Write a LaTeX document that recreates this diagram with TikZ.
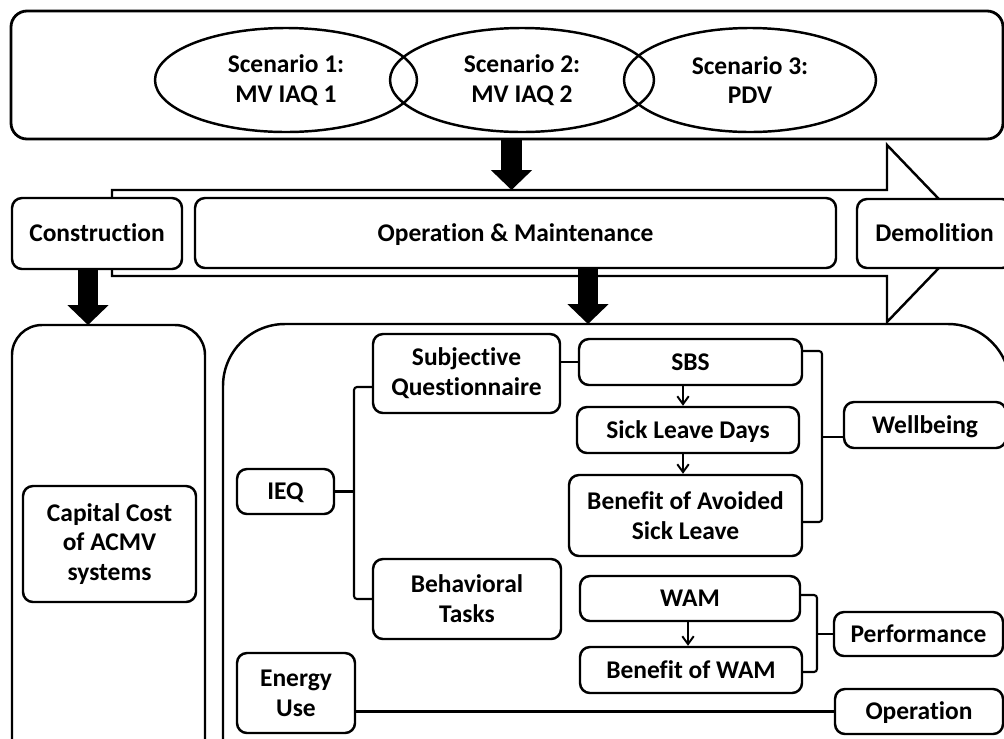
\documentclass[tikz,border=0pt]{standalone}
\usepackage{fontspec}
\setmainfont{Carlito}[Ligatures=NoCommon]
\usetikzlibrary{arrows.meta,calc,shapes.geometric}
\tikzset{
  every node/.style={font=\bfseries\fontsize{14.5}{17}\selectfont, text=black},
  sz/.style 2 args={minimum width=#1*0.02cm, minimum height=#2*0.02cm, inner sep=0pt},
  rbox/.style={draw, line width=1.4pt, rounded corners=0.2cm, fill=white, align=center},
  oneline/.style={text height=9.3pt, text depth=0pt},
  scen/.style={draw, ellipse, line width=1.4pt, align=center},
  conn/.style={line width=1.2pt, rounded corners=0.06cm},
  bigarrow/.style={line width=11.5pt, -{Triangle[width=22.7pt 0, length=11.3pt 0 0]}},
  smallarrow/.style={line width=1.1pt, -{Straight Barb[width=6.5pt, length=4.5pt]}},
}
\begin{document}
\begin{tikzpicture}[x=0.02cm, y=-0.02cm]
\useasboundingbox (0,0) rectangle (1004,738);
\clip (0,0) rectangle (1004,738);

% top scenario box
\node[rbox, sz={992}{128}, rounded corners=0.32cm, line width=1.6pt] (top) at (507,75) {};
\node[scen, sz={262}{104}] (s1) at (286,80) {Scenario 1:\\MV IAQ 1};
\node[scen, sz={264}{104}] (s2) at (522,80) {Scenario 2:\\MV IAQ 2};
\node[scen, sz={252}{104}] (s3) at (750,80) {Scenario 3:\\PDV};

% big lower boxes
\node[rbox, sz={193}{575}, rounded corners=0.6cm] (leftbig) at (108.5,612.5) {};
\node[rbox, sz={787}{576}, rounded corners=1.24cm] (rightbig) at (616.5,612) {};

% life cycle arrow
\draw[line width=1.4pt, fill=white, line join=miter]
  (112,190) -- (887,190) -- (887,145) -- (972,233.5) -- (887,322) -- (887,276) -- (112,276) -- cycle;

\node[rbox, oneline, sz={170}{71}] (cons) at (97,233.5) {Construction};
\node[rbox, oneline, sz={641}{70}] (om) at (515.5,233) {Operation \& Maintenance};
\node[rbox, oneline, sz={155}{69}] (dem) at (934.5,233.5) {Demolition};

% inner nodes
\node[rbox, sz={173}{116}] (cap) at (109.5,544) {Capital Cost\\of ACMV\\systems};
\node[rbox, sz={187}{79}] (subj) at (466.5,373.5) {Subjective\\Questionnaire};
\node[rbox, oneline, sz={223}{46}] (sbs) at (690.5,362) {SBS};
\node[rbox, oneline, sz={222}{46}] (sld) at (688,430) {Sick Leave Days};
\node[rbox, sz={233}{81}] (bav) at (685.5,515.5) {Benefit of Avoided\\Sick Leave};
\node[rbox, oneline, sz={97}{45}] (ieq) at (285.5,491.5) {IEQ};
\node[rbox, sz={188}{80}] (beh) at (467,599) {Behavioral\\Tasks};
\node[rbox, oneline, sz={220}{45}] (wam) at (690,598.5) {WAM};
\node[rbox, oneline, sz={222}{46}] (bwam) at (691,670) {Benefit of WAM};
\node[rbox, oneline, sz={162}{46}] (well) at (925,425) {Wellbeing};
\node[rbox, oneline, sz={169}{44}] (perf) at (918.5,634) {Performance};
\node[rbox, oneline, sz={168}{45}] (oper) at (919,711.5) {Operation};
\node[rbox, sz={118}{80}] (eu) at (296,693) {Energy\\Use};

% thick arrows
\coordinate (a1) at (511.5,190);
\coordinate (a2) at (88,325);
\coordinate (a3) at (588,324);
\draw[bigarrow] (top.south -| a1) -- (a1);
\draw[bigarrow] (cons.south -| a2) -- (a2);
\draw[bigarrow] (om.south -| a3) -- (a3);

% small arrows
\coordinate (x1) at (683,0);
\coordinate (x2) at (688,0);
\draw[smallarrow] (sbs.south -| x1) -- (sld.north -| x1);
\draw[smallarrow] (sld.south -| x1) -- (bav.north -| x1);
\draw[smallarrow] (wam.south -| x2) -- (bwam.north -| x2);

% connectors
\draw[conn] (sbs.west) -- (sbs.west -| subj.east);
\coordinate (jq) at (354,0);
\draw[conn] ($(subj.west)+(0,13.5)$) -- ($(subj.west -| jq)+(0,13.5)$) |- (beh.west);
\draw[conn] (ieq.east) -- (ieq.east -| jq);

\coordinate (jw) at (822,0);
\draw[conn] ($(sbs.east)+(0,-11)$) -- ($(sbs.east -| jw)+(0,-11)$) -- ($(bav.east -| jw)+(0,6.5)$) -- ($(bav.east)+(0,6.5)$);
\draw[conn] ($(well.west)+(0,12)$) -- ($(well.west -| jw)+(0,12)$);

\coordinate (jp) at (817,0);
\draw[conn] ($(wam.east)+(0,-3.5)$) -- ($(wam.east -| jp)+(0,-3.5)$) -- ($(bwam.east -| jp)+(0,2)$) -- ($(bwam.east)+(0,2)$);
\draw[conn] (perf.west) -- (perf.west -| jp);

\draw[conn] (oper.west) -- (oper.west -| eu.east);
\end{tikzpicture}
\end{document}
